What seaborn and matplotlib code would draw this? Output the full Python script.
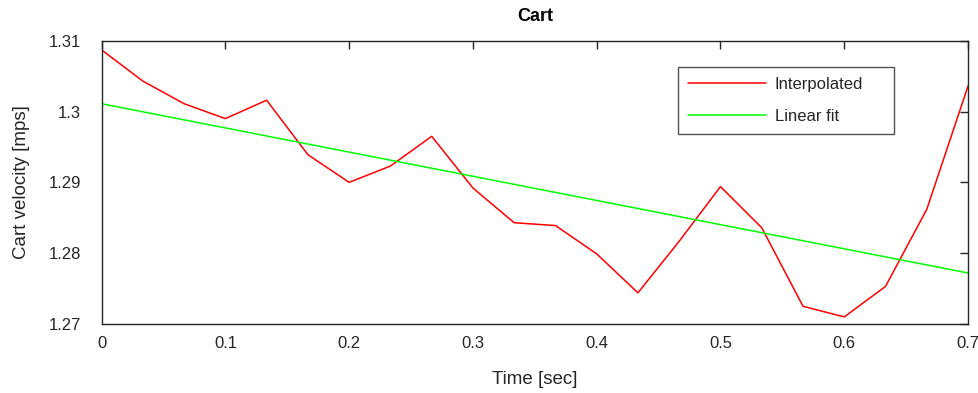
import matplotlib
matplotlib.use("Agg")
import matplotlib.pyplot as plt
import matplotlib.ticker as ticker
import numpy as np
import pandas as pd
import seaborn as sns

# data
time_s = [0.0, 0.0333, 0.0667, 0.1, 0.1333, 0.1667, 0.2, 0.2333, 0.2667, 0.3, 0.3333,
          0.3667, 0.4, 0.4333, 0.4667, 0.5, 0.5333, 0.5667, 0.6, 0.6333, 0.6667, 0.7]
velocity = [1.3087, 1.3043, 1.3011, 1.2990, 1.3016, 1.2939, 1.2900, 1.2923, 1.2965, 1.2892, 1.2843,
            1.2839, 1.2799, 1.2744, 1.2817, 1.2894, 1.2836, 1.2725, 1.2710, 1.2753, 1.2862, 1.3036]
fit_time = [0.0, 0.7]
fit_velocity = [1.3011, 1.2772]

x_ticks = [0, 0.1, 0.2, 0.3, 0.4, 0.5, 0.6, 0.7]
y_ticks = [1.27, 1.28, 1.29, 1.30, 1.31]

sns.set_style("white")
plt.rcParams['font.family'] = ['Liberation Sans', 'DejaVu Sans']

fig = plt.figure(figsize=(9.79, 3.93), dpi=100)
ax = fig.add_axes([0.1038, 0.1756, 0.8850, 0.7208])

d = pd.DataFrame({"t": time_s, "v": velocity})
f = pd.DataFrame({"t": fit_time, "v": fit_velocity})
sns.lineplot(data=d, x="t", y="v", color="#ff0000", lw=1.1, ax=ax, label="Interpolated")
sns.lineplot(data=f, x="t", y="v", color="#00ff00", lw=1.1, ax=ax, label="Linear fit")

ax.set_xlim(0, 0.7)
ax.set_ylim(1.27, 1.31)
ax.set_xticks(x_ticks)
ax.set_yticks(y_ticks)
ax.xaxis.set_major_formatter(ticker.FormatStrFormatter('%g'))
ax.yaxis.set_major_formatter(ticker.FuncFormatter(lambda v, p: '%g' % round(v, 4)))

axis_col = '#262626'
for s in ax.spines.values():
    s.set_color(axis_col)
    s.set_linewidth(1.0)
    s.set_visible(True)
ax.tick_params(axis='both', which='major', direction='in', length=6, width=1,
               colors=axis_col, labelcolor='#262626', labelsize=12,
               top=True, right=True)
ax.tick_params(axis='y', pad=15)
ax.tick_params(axis='x', pad=9)

ax.set_xlabel("Time [sec]", fontsize=13.5, color='#262626', labelpad=14)
ax.set_ylabel("Cart velocity [mps]", fontsize=13.5, color='#262626', labelpad=13)
ax.set_title("Cart", fontsize=13, fontweight='bold', color='black', pad=14.5)

leg = ax.legend(loc='upper left', bbox_to_anchor=(0.6653, 0.5, 0.2493, 0.407),
                mode='expand', borderaxespad=0,
                fontsize=12, frameon=True, fancybox=False, handlelength=4.7,
                handletextpad=0.5, borderpad=0.6, labelspacing=1.0)
leg.get_frame().set_edgecolor(axis_col)
leg.get_frame().set_linewidth(1.0)
for t in leg.get_texts():
    t.set_color('#262626')

fig.savefig("out.png", dpi=100)
